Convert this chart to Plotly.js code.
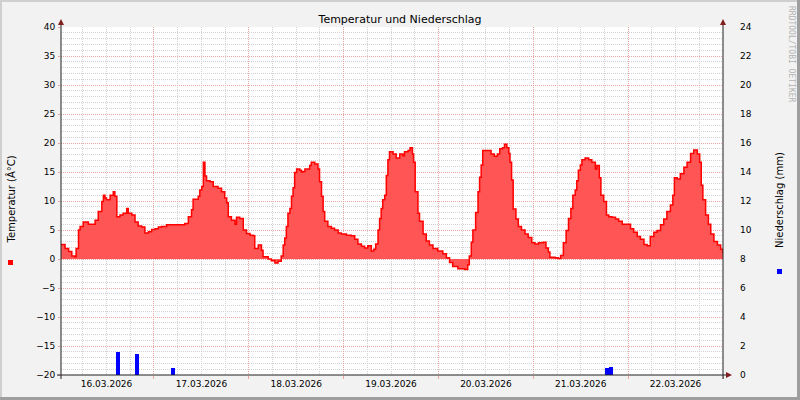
<!DOCTYPE html>
<html>
<head>
<meta charset="utf-8">
<script src="https://cdn.plot.ly/plotly-3.0.1.min.js"></script>
<style>html,body{margin:0;padding:0;background:#F2F2F2;}#chart{width:800px;height:400px;}</style>
</head>
<body>
<div id="chart"></div>
<script>
// Time base: hours after 16.03.2026 00:00
const startDate = '2026-03-16T00:00:00Z';

// Temperature (°C): hour offsets and values
const tempHours = [0,1.5,2.4,3.2,4.0,4.3,4.9,5.3,6.1,7.4,8.3,9.1,9.9,10.8,11.2,11.6,12.0,12.9,13.7,14.1,14.6,15.4,16.2,17.1,17.5,18.4,19.2,20.0,20.9,21.7,22.6,23.4,24.3,25.1,25.9,27.2,31.8,32.7,33.5,33.9,35.2,35.6,36.1,36.5,36.9,37.3,38.2,39.0,40.2,41.1,41.9,42.4,42.8,43.6,44.5,44.9,45.7,46.6,47.4,48.3,49.1,49.5,50.4,51.2,51.6,52.9,53.7,54.6,55.4,56.2,56.7,57.1,57.5,57.9,58.4,58.8,59.2,59.6,60.1,60.9,61.3,61.7,62.2,63.0,63.4,63.8,64.7,65.5,65.9,66.4,66.8,67.2,68.0,68.9,69.7,70.6,71.4,72.7,73.9,74.8,75.6,76.5,77.3,78.1,79.0,79.6,80.1,80.7,81.1,81.5,81.9,82.4,82.8,83.2,83.6,84.5,85.3,86.2,87.0,87.4,88.3,88.8,89.4,89.7,90.1,90.8,91.2,92.1,92.9,93.7,94.6,95.8,97.1,98.0,98.8,99.6,100.9,102.6,103.4,103.8,104.3,104.7,105.4,106.0,106.4,106.8,107.2,108.4,109.3,110.1,110.9,111.5,112.2,112.7,113.3,113.8,114.1,114.5,114.9,115.6,116.2,117.0,117.9,118.7,119.6,120.4,121.3,122.5,123.2,123.8,124.2,125.5,126.3,126.9,127.6,128.3,128.9,129.5,130.0,130.6,131.0,131.4,131.9,132.3,133.1,134.0,134.8,135.7,136.1,136.7,137.1,137.8,138.5,139.1,139.9,140.8,141.6,142.5,143.8,144.6,145.4,146.3,147.1,148.0,148.8,149.6,150.5,151.3,152.2,153.0,153.8,154.7,155.3,155.7,156.4,157.2,158.1,158.9,159.8,160.6,161.5,162.1,162.5,162.9,163.6,164.3,164.9,165.7,166.6,167.4,168.0];
const tempValues = [2.5,1.8,1.3,0.5,0.4,1.8,5.0,5.6,6.4,6.0,6.0,6.7,8.2,9.9,11.0,10.5,10.2,11.0,11.6,10.8,7.3,7.6,7.9,8.7,7.9,7.6,6.4,5.7,5.5,4.5,4.7,5.1,5.2,5.5,5.6,5.9,6.1,7.3,8.5,10.3,10.8,11.9,12.5,16.7,14.3,13.5,13.3,12.5,12.2,11.6,10.5,9.7,7.3,6.7,6.0,7.2,7.0,5.0,4.4,4.1,4.0,1.8,2.4,1.5,0.4,0.0,-0.3,-0.7,-0.4,0.5,2.4,3.6,5.6,7.9,8.7,10.8,12.3,14.9,15.5,15.3,15.0,15.1,15.5,15.5,16.1,16.7,16.4,15.5,13.3,10.8,8.2,6.5,5.6,5.3,5.0,4.5,4.3,4.1,4.0,3.4,2.6,2.2,1.9,2.3,1.4,1.7,2.6,5.0,7.0,8.7,10.2,11.0,14.4,17.1,18.5,18.1,17.4,18.1,17.8,18.5,18.7,19.2,18.1,16.7,11.6,7.9,6.5,4.3,3.1,2.4,1.8,1.4,0.9,0.2,-0.6,-1.3,-1.7,-1.8,-1.0,0.5,2.9,5.0,8.0,11.6,14.1,16.2,18.7,18.7,18.1,17.7,18.1,19.0,19.2,19.8,19.2,18.2,16.7,13.6,8.6,6.9,5.6,5.0,4.3,3.7,2.8,2.6,2.8,2.9,1.9,1.2,0.3,0.2,0.1,0.6,2.8,4.9,7.0,8.7,11.0,11.9,13.5,15.3,16.2,17.1,17.4,17.1,16.7,15.5,16.1,14.0,11.0,9.9,7.6,7.3,7.2,6.9,6.5,6.0,6.0,5.2,4.6,3.9,3.4,2.5,2.3,3.9,4.6,4.9,5.9,6.9,8.2,9.3,11.0,14.0,13.8,14.7,15.8,16.7,18.2,18.8,18.1,16.7,12.7,10.2,7.6,6.0,4.3,3.0,2.4,1.7,1.0];

// Precipitation (mm per hour)
const rainHours = [14.9, 19.7, 28.8, 138.6, 139.6];
const rainValues = [1.6, 1.45, 0.48, 0.46, 0.53];

// Texts
const titleText = 'Temperatur und Niederschlag';
const leftTitle = 'Temperatur (Â°C)';
const rightTitle = 'Niederschlag (mm)';
const sideText = 'RRDTOOL/TOBI OETIKER';

const base = Date.parse(startDate);
const H = 3600000;
const toDate = h => base + h * H;

// plot area in pixels
const W = 800, HT = 400, L = 61, R = 723, T = 27, B = 375;
const px = x => (x - L) / (R - L);
const py = y => (B - y) / (B - T);

const MGRID = '#EBA4A4';
const GRID = '#D2D2D2';
const AXIS = '#1F1F1F';
const ARROW = '#801F1F';
const FONT = 'DejaVu Sans, sans-serif';

const traces = [
  {
    x: tempHours.map(toDate), y: tempValues,
    type: 'scatter', mode: 'lines',
    line: {color: '#FF0000', width: 1.5, shape: 'hv'},
    fill: 'tozeroy', fillcolor: '#FF5555',
    yaxis: 'y', hoverinfo: 'skip', showlegend: false
  },
  {
    x: rainHours.map(toDate), y: rainValues,
    type: 'bar', width: H,
    marker: {color: '#0000FF', line: {width: 0}},
    yaxis: 'y2', hoverinfo: 'skip', showlegend: false
  }
];

function tri(points) {
  return 'M ' + points.map(p => px(p[0]) + ' ' + py(p[1])).join(' L ') + ' Z';
}

const shapes = [
  // frame shading
  {type:'rect', xref:'paper', yref:'paper', x0:px(0), x1:px(800), y0:py(0), y1:py(2), fillcolor:'#CFCFCF', line:{width:0}},
  {type:'rect', xref:'paper', yref:'paper', x0:px(0), x1:px(2), y0:py(0), y1:py(400), fillcolor:'#CFCFCF', line:{width:0}},
  {type:'rect', xref:'paper', yref:'paper', x0:px(0), x1:px(800), y0:py(397), y1:py(400), fillcolor:'#9E9E9E', line:{width:0}},
  {type:'rect', xref:'paper', yref:'paper', x0:px(797), x1:px(800), y0:py(0), y1:py(400), fillcolor:'#9E9E9E', line:{width:0}},
  // axis lines with extensions
  {type:'line', xref:'paper', yref:'paper', x0:px(61), x1:px(61), y0:py(379), y1:py(23), line:{color:AXIS, width:1}},
  {type:'line', xref:'paper', yref:'paper', x0:px(723), x1:px(723), y0:py(379), y1:py(23), line:{color:AXIS, width:1}},
  {type:'line', xref:'paper', yref:'paper', x0:px(57), x1:px(727), y0:py(375), y1:py(375), line:{color:AXIS, width:1}},
  // arrows
  {type:'path', xref:'paper', yref:'paper', path: tri([[58,25],[64,25],[61,19]]), fillcolor:ARROW, line:{width:0}},
  {type:'path', xref:'paper', yref:'paper', path: tri([[720,25],[726,25],[723,19]]), fillcolor:ARROW, line:{width:0}},
  {type:'path', xref:'paper', yref:'paper', path: tri([[726,372],[726,378],[732,375]]), fillcolor:ARROW, line:{width:0}},
  // legend swatches
  {type:'rect', xref:'paper', yref:'paper', x0:px(8), x1:px(13), y0:py(265), y1:py(260), fillcolor:'#FF0000', line:{width:0}},
  {type:'rect', xref:'paper', yref:'paper', x0:px(777), x1:px(782), y0:py(274), y1:py(269), fillcolor:'#0000FF', line:{width:0}}
];

const annotations = [
  {text: leftTitle, xref:'paper', yref:'paper', x:px(10.5), y:py(200), textangle:-90, showarrow:false,
   font:{family:FONT, size:10, color:'#000'}, xanchor:'center', yanchor:'middle'},
  {text: rightTitle, xref:'paper', yref:'paper', x:px(779), y:py(200), textangle:-90, showarrow:false,
   font:{family:FONT, size:10, color:'#000'}, xanchor:'center', yanchor:'middle'},
  {text: sideText, xref:'paper', yref:'paper', x:px(791.5), y:py(4), textangle:90, showarrow:false,
   font:{family:'DejaVu Sans Mono, monospace', size:8, color:'#B4B4B4'}, xanchor:'center', yanchor:'top'}
];

const layout = {
  width: W, height: HT,
  margin: {l: L, r: W - R, t: T, b: HT - B, pad: 0},
  paper_bgcolor: '#F2F2F2', plot_bgcolor: '#FFFFFF',
  font: {family: FONT, size: 9, color: '#000'},
  title: {text: titleText, x: 0.5, xref: 'container', y: 1 - 19/400, yref: 'container', yanchor: 'middle',
          font: {family: FONT, size: 11, color: '#000'}},
  showlegend: false,
  bargap: 0,
  xaxis: {
    type: 'date',
    range: [toDate(0.47), toDate(168)],
    tick0: '2026-03-16', dtick: 86400000,
    ticklabelmode: 'period', tickformat: '%d.%m.%Y',
    ticks: 'outside', ticklen: 3, tickcolor: MGRID,
    ticklabelstandoff: -3,
    showgrid: true, gridcolor: MGRID, griddash: '1px,1px', gridwidth: 1,
    minor: {dtick: 6 * H, showgrid: true, gridcolor: GRID, griddash: '1px,1px', ticks: ''},
    showline: false, zeroline: false,
    tickfont: {family: FONT, size: 9, color: '#000'},
    fixedrange: true
  },
  yaxis: {
    range: [-20, 40], dtick: 5, tick0: 0,
    ticks: 'outside', ticklen: 2, tickcolor: MGRID,
    ticklabelstandoff: 1,
    showgrid: true, gridcolor: MGRID, griddash: '1px,1px',
    minor: {dtick: 1, showgrid: true, gridcolor: GRID, griddash: '1px,1px', ticks: ''},
    showline: false, zeroline: false,
    tickfont: {family: FONT, size: 9, color: '#000'},
    fixedrange: true
  },
  yaxis2: {
    range: [0, 24], dtick: 2, tick0: 0,
    overlaying: 'y', side: 'right',
    showgrid: false, zeroline: false, showline: false,
    ticks: '', ticklabelstandoff: 16,
    tickfont: {family: FONT, size: 9, color: '#000'},
    fixedrange: true
  },
  shapes: shapes,
  annotations: annotations
};

Plotly.newPlot('chart', traces, layout, {staticPlot: true, displayModeBar: false});
</script>
</body>
</html>
